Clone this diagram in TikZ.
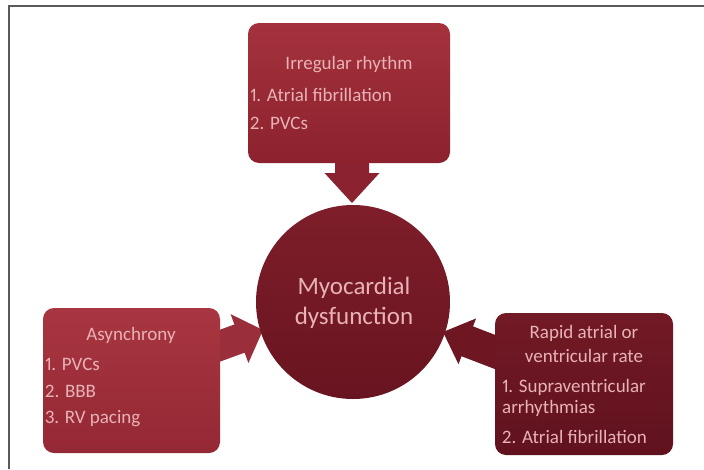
\documentclass[tikz,border=0pt]{standalone}
\usepackage{fontspec}
\setmainfont[Numbers=Proportional]{Carlito}
\definecolor{txtpink}{HTML}{E8B2B6}
\definecolor{framegray}{HTML}{5A5A5A}
\definecolor{toparrow}{HTML}{8A2230}
\definecolor{leftarrow}{HTML}{9A2E3A}
\definecolor{rightarrow}{HTML}{6E1722}
\definecolor{topA}{HTML}{A4323C}
\definecolor{topB}{HTML}{8C222E}
\definecolor{leftA}{HTML}{A83640}
\definecolor{leftB}{HTML}{942834}
\definecolor{rightA}{HTML}{721A26}
\definecolor{rightB}{HTML}{60121E}
\definecolor{circA}{HTML}{7E1E2A}
\definecolor{circB}{HTML}{681420}
\begin{document}
\begin{tikzpicture}[x=1pt,y=-1pt,
  boxtxt/.style={inner sep=0pt,text=txtpink,font=\fontsize{19}{22}\selectfont},
  circtxt/.style={inner sep=0pt,text=txtpink,font=\fontsize{25}{30}\selectfont,align=center},
  rbox/.style={rounded corners=11pt},
]
\fill[white] (0,0) rectangle (704,469);
\useasboundingbox (0,0) rectangle (704,469);
% frame
\draw[framegray,line width=2pt] (704,6) -- (9,6) -- (9,469);

% arrows (local: tip at origin, pointing +x)
\begin{scope}[shift={(352,203)},rotate=-90]
  \fill[toparrow] (-50,-17) -- (-30,-17) -- (-30,-27.5) -- (0,0) -- (-30,27.5) -- (-30,17) -- (-50,17) -- cycle;
\end{scope}
\begin{scope}[shift={(263,330)},rotate=20]
  \fill[leftarrow] (-60,-15) -- (-25,-15) -- (-25,-26) -- (0,0) -- (-25,26) -- (-25,15) -- (-60,15) -- cycle;
\end{scope}
\begin{scope}[shift={(443,332)},rotate=159]
  \fill[rightarrow] (-70,-16) -- (-26,-16) -- (-26,-24.5) -- (0,0) -- (-26,24.5) -- (-26,16) -- (-70,16) -- cycle;
\end{scope}

% boxes
\shade[rbox,top color=topA,bottom color=topB] (248,23) rectangle (450,163);
\shade[rbox,top color=leftA,bottom color=leftB] (43,308) rectangle (220,453);
\shade[rbox,top color=rightA,bottom color=rightB] (495,313) rectangle (673,455);

% circle
\node[circle,minimum size=194pt,inner sep=0pt,top color=circA,bottom color=circB]
  (circ) at (353,302) {};
\node[circtxt] (ctext) at (354,303) {Myocardial\\dysfunction};

% top box text
\node[boxtxt] (t0) at (349,65) {Irregular rhythm};
\node[boxtxt,anchor=west] (t1) at (250,95) {1. Atrial fibrillation};
\node[boxtxt,anchor=west] (t2) at (250,123) {2. PVCs};

% left box text
\node[boxtxt] (l0) at (131,335) {Asynchrony};
\node[boxtxt,anchor=west] (l1) at (45,364) {1. PVCs};
\node[boxtxt,anchor=west] (l2) at (45,391) {2. BBB};
\node[boxtxt,anchor=west] (l3) at (45,419) {3. RV pacing};

% right box text
\node[boxtxt] (r0) at (584,333) {Rapid atrial or};
\node[boxtxt] (r1) at (584,356) {ventricular rate};
\node[boxtxt,anchor=west] (r2) at (502,387) {1. Supraventricular};
\node[boxtxt,anchor=west] (r3) at (502,408) {arrhythmias};
\node[boxtxt,anchor=west] (r4) at (502,437) {2. Atrial fibrillation};
\end{tikzpicture}
\end{document}
